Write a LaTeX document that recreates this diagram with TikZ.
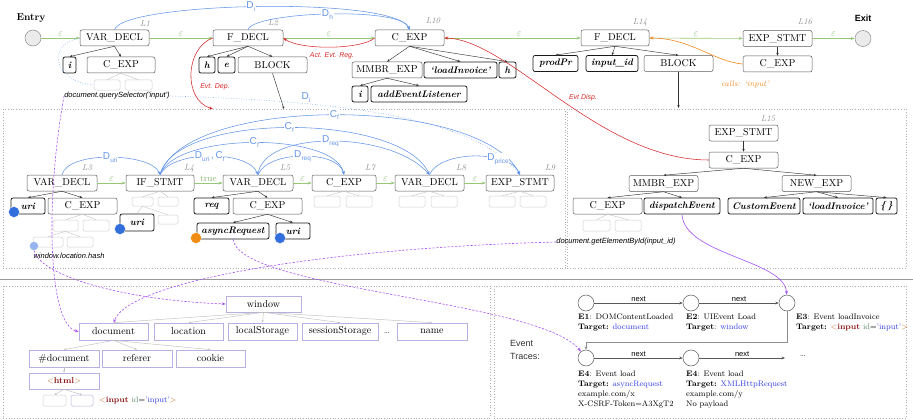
\documentclass[tikz,border=0pt]{standalone}
\usepackage{fontspec}
\newfontfamily\arial{Liberation Sans}
\usetikzlibrary{arrows.meta}
\definecolor{cgreen}{RGB}{150,200,120}
\definecolor{cblue}{RGB}{100,150,232}
\definecolor{cred}{RGB}{215,40,40}
\definecolor{corange}{RGB}{240,135,30}
\definecolor{cpurple}{RGB}{165,80,245}
\definecolor{cdom}{RGB}{185,175,225}
\definecolor{ctag}{RGB}{200,110,50}
\definecolor{cdred}{RGB}{140,20,20}
\definecolor{cattr}{RGB}{90,140,100}
\definecolor{cval}{RGB}{50,60,230}
\definecolor{cbdot}{RGB}{50,110,220}
\definecolor{cldot}{RGB}{150,180,240}
\definecolor{codot}{RGB}{240,140,20}
\newcommand\Dsub[1]{D\kern0.2pt\raisebox{-2.8pt}{\fontsize{6.5}{6.5}\selectfont #1}}
\newcommand\Csub{C\kern0.2pt\raisebox{-2.8pt}{\fontsize{6.5}{6.5}\selectfont f}}
\newcommand\inputtag{\textcolor{ctag}{<}\textcolor{cdred}{\textbf{input}} \textcolor{cattr}{id}=\textcolor{cval}{'input'}\textcolor{ctag}{>}}
\tikzset{
 ast/.style={draw=black!65, rounded corners=2pt, line width=0.5pt, minimum height=16pt, inner sep=0pt, fill=white, font=\fontsize{10}{11}\selectfont},
 lit/.style={ast, draw=black!90, line width=0.75pt, font=\fontsize{9.5}{11}\selectfont\bfseries\itshape},
 faint/.style={draw=black!18, rounded corners=1.5pt, line width=0.5pt, inner sep=0pt, fill=white},
 lno/.style={text=black!45, font=\fontsize{8.5}{9}\selectfont\itshape, inner sep=0pt},
 eps/.style={text=cgreen!90!black, font=\fontsize{10}{10}\selectfont, inner sep=1.5pt, above},
 cf/.style={draw=cgreen, line width=0.6pt, -{Stealth[length=4pt,width=3pt]}},
 tr/.style={draw=black!80, line width=0.45pt, -{Stealth[length=3pt,width=2.4pt]}},
 ftr/.style={draw=black!22, line width=0.45pt},
 dep/.style={draw=cblue, line width=0.55pt, -{Stealth[length=3.5pt,width=3pt]}},
 dlab/.style={text=cblue, fill=white, inner sep=0.6pt, font=\arial\fontsize{10}{10}\selectfont},
 redl/.style={draw=cred, line width=0.55pt, -{Stealth[length=4pt,width=3pt]}},
 rlab/.style={text=cred, font=\arial\itshape\fontsize{7}{8}\selectfont, inner sep=0pt},
 orgl/.style={draw=corange, line width=0.6pt, -{Stealth[length=4pt,width=3pt]}},
 purp/.style={draw=cpurple, line width=0.6pt, -{Stealth[length=4pt,width=3pt]}},
 pdash/.style={dash pattern=on 2.2pt off 1.6pt},
 dom/.style={draw=cdom, line width=0.7pt, minimum height=17pt, inner sep=0pt, fill=white, font=\fontsize{10}{11}\selectfont},
 domtr/.style={draw=black!25, line width=0.45pt, -{Stealth[length=2.5pt,width=2pt]}},
 panel/.style={draw=black!30, dotted, line width=0.7pt},
 evc/.style={circle, draw=black!65, line width=0.5pt, minimum size=16pt, inner sep=0pt, fill=white},
 evt/.style={font=\fontsize{8}{10}\selectfont, align=left, anchor=north west, inner sep=0pt},
 nxt/.style={draw=black!65, line width=0.5pt, -{Stealth[length=3.5pt,width=2.8pt]}},
 nlab/.style={font=\arial\fontsize{7.5}{8}\selectfont, above, inner sep=1.5pt},
 sansit/.style={font=\arial\itshape\fontsize{7.5}{8}\selectfont, inner sep=0pt},
 dotn/.style={circle, inner sep=0pt, minimum size=11pt, draw=white, line width=0.3pt},
 term/.style={circle, draw=black!45, fill=black!8, minimum size=16pt, inner sep=0pt, line width=0.5pt},
}
\begin{document}
\begin{tikzpicture}[x=1pt,y=-1pt]
\useasboundingbox (0,0) rectangle (913,420);
% panels
\draw[panel] (3,109) rectangle (565,268);
\draw[panel] (567,109) rectangle (906,268);
\draw[black!40, line width=1pt] (0,279) -- (913,279);
\draw[panel] (3,286) rectangle (490,418);
\draw[panel] (494,286) rectangle (906,418);

% ---------- top row ----------
\node[term] (entry) at (33,38) {};
\node[font=\bfseries\fontsize{10}{11}\selectfont] (entryl) at (31,18) {Entry};
\node[ast, minimum width=69pt] (vd1) at (114.5,38) {VAR\_DECL};
\node[lno] (L1) at (145,24) {L1};
\node[lit, minimum width=13pt] (i1) at (69.5,65) {i};
\node[ast, minimum width=68pt] (ce1) at (121,65) {C\_EXP};
\node[faint, minimum width=26pt, minimum height=10pt] (f1a) at (107,85) {};
\node[faint, minimum width=27pt, minimum height=10pt] (f1b) at (138.5,85) {};
\node[sansit] (qs) at (117,96) {document.querySelector('input')};

\node[ast, minimum width=70pt] (fd1) at (248,38) {F\_DECL};
\node[lno] (L2) at (273,23) {L2};
\node[lit, minimum width=16pt] (h1) at (207,65) {h};
\node[lit, minimum width=17pt] (e1) at (226.5,65) {e};
\node[ast, minimum width=69pt] (bl1) at (272.5,65) {BLOCK};

\node[ast, minimum width=69pt] (ce10) at (409.5,38) {C\_EXP};
\node[lno] (L10) at (433,21) {L10};
\node[ast, minimum width=70pt] (mm10) at (387,70) {MMBR\_EXP};
\node[lit, minimum width=73pt] (li10) at (460.5,70) {`loadInvoice'};
\node[lit, minimum width=17pt] (h2) at (507.5,70) {h};
\node[lit, minimum width=16pt] (i2) at (360,94) {i};
\node[lit, minimum width=96pt] (ael) at (419,94) {addEventListener};

\node[ast, minimum width=68pt] (fd14) at (615,38) {F\_DECL};
\node[lno] (L14) at (640,22) {L14};
\node[lit, minimum width=45pt] (pp) at (555.5,63.5) {prodPr};
\node[lit, minimum width=52pt] (iid) at (612,63.5) {input\_id};
\node[ast, minimum width=69pt] (bl14) at (678.5,63.5) {BLOCK};

\node[ast, minimum width=69pt] (es16) at (777.5,38.5) {EXP\_STMT};
\node[lno] (L16) at (805,22) {L16};
\node[ast, minimum width=69pt] (ce16) at (777.5,64) {C\_EXP};
\node[term] (exit) at (863,38.5) {};
\node[font=\arial\bfseries\fontsize{9}{10}\selectfont] (exitl) at (863,18) {Exit};
\node[text=corange, font=\itshape\fontsize{8}{9}\selectfont] (calls) at (745,84) {calls: `input'};

% control flow top
\draw[cf] (entry) -- node[eps] (ep1) {$\varepsilon$} (vd1);
\draw[cf] (vd1) -- node[eps] (ep2) {$\varepsilon$} (fd1);
\draw[cf] (fd1) -- node[eps] (ep3) {$\varepsilon$} (ce10);
\draw[cf] (ce10) -- node[eps, pos=0.55] (ep4) {$\varepsilon$} (fd14);
\draw[cf] (fd14) -- node[eps] (ep5) {$\varepsilon$} (es16);
\draw[cf] (es16) -- node[eps] (ep6) {$\varepsilon$} (exit);

% tree edges top
\draw[tr] (vd1.south) -- (i1.north);
\draw[tr] (vd1.south) -- (ce1.north);
\draw[ftr] (ce1.south) -- (f1a.north);
\draw[ftr] (ce1.south) -- (f1b.north);
\draw[tr] (fd1.south) -- (h1.north);
\draw[tr] (fd1.south) -- (e1.north);
\draw[tr] (fd1.south) -- (bl1.north);
\draw[tr] (ce10.south) -- (mm10.north);
\draw[tr] (ce10.south) -- (li10.north);
\draw[tr] (ce10.south) -- (h2.north);
\draw[tr] (mm10.south) -- (i2.north);
\draw[tr] (mm10.south) -- (ael.north);
\draw[tr] (fd14.south) -- (pp.north);
\draw[tr] (fd14.south) -- (iid.north);
\draw[tr] (fd14.south) -- (bl14.north);
\draw[tr] (es16.south) -- (ce16.north);
\coordinate (blk1end) at (284,109);
\coordinate (blk2end) at (678.5,108);
\draw[tr] (bl1.south) -- (blk1end);
\draw[tr] (bl14.south) -- (blk2end);

% ---------- middle left panel ----------
\node[ast, minimum width=70pt] (vd3) at (62,183) {VAR\_DECL};
\node[lno] (L3) at (87,168) {L3};
\node[lit, minimum width=34pt] (uri3) at (28,206) {uri};
\node[ast, minimum width=69pt] (ce3) at (82.5,206) {C\_EXP};
\node[faint, minimum width=25pt, minimum height=11pt] (f3a) at (65.5,225.5) {};
\node[faint, minimum width=26pt, minimum height=11pt] (f3b) at (96,225.5) {};
\node[faint, minimum width=30pt, minimum height=10pt] (f3c) at (48,242) {};
\node[faint, minimum width=26pt, minimum height=10pt] (f3d) at (80,242) {};
\node[sansit] (hash) at (69,256) {window.location.hash};

\node[ast, minimum width=68pt] (if4) at (160,183) {IF\_STMT};
\node[lno] (L4) at (189,168) {L4};
\node[faint, minimum width=21pt, minimum height=9pt] (f4a) at (142.5,201.5) {};
\node[faint, minimum width=20pt, minimum height=9pt] (f4b) at (168,201.5) {};
\node[lit, minimum width=34pt, minimum height=17pt] (uri4) at (137,222.5) {uri};
\node[faint, minimum width=20pt, minimum height=9pt] (f4c) at (168,219.5) {};

\node[ast, minimum width=70pt] (vd5) at (258,183) {VAR\_DECL};
\node[lno] (L5) at (285,168) {L5};
\node[lit, minimum width=35pt] (req) at (211.5,206) {req};
\node[ast, minimum width=69pt] (ce5) at (267.5,206) {C\_EXP};
\node[lit, minimum width=72pt] (async) at (233,231) {asyncRequest};
\node[lit, minimum width=34pt] (uri5) at (293,231) {uri};

\node[ast, minimum width=64pt] (ce7) at (344,183) {C\_EXP};
\node[lno] (L7) at (370,168) {L7};
\node[faint, minimum width=26pt, minimum height=11pt] (f7a) at (327,201.5) {};
\node[faint, minimum width=26pt, minimum height=11pt] (f7b) at (359,201.5) {};
\node[ast, minimum width=69pt] (vd8) at (429.5,183) {VAR\_DECL};
\node[lno] (L8) at (461,168) {L8};
\node[faint, minimum width=26pt, minimum height=11pt] (f8a) at (412,201.5) {};
\node[faint, minimum width=26pt, minimum height=11pt] (f8b) at (444,201.5) {};
\node[ast, minimum width=68pt] (es9) at (520,183) {EXP\_STMT};
\node[lno] (L9) at (550,168) {L9};
\node[faint, minimum width=26pt, minimum height=11pt] (f9a) at (502,201.5) {};
\node[faint, minimum width=26pt, minimum height=11pt] (f9b) at (533,201.5) {};
\node[sansit] (gebi) at (616,242) {document.getElementById(input\_id)};

\node[dotn, fill=cbdot] (d3) at (14,212) {};
\node[dotn, fill=cldot, minimum size=9pt] (hdot) at (34,246) {};
\node[dotn, fill=cbdot] (d4) at (120,229) {};
\node[dotn, fill=codot] (d5a) at (196,238) {};
\node[dotn, fill=cbdot] (d5b) at (280,238) {};

\draw[cf] (vd3) -- node[eps] (ep7) {$\varepsilon$} (if4);
\draw[cf] (if4) -- node[eps, font=\fontsize{9}{9}\selectfont] (ep8) {true} (vd5);
\draw[cf] (vd5) -- node[eps] (ep9) {$\varepsilon$} (ce7);
\draw[cf] (ce7) -- node[eps] (ep10) {$\varepsilon$} (vd8);
\draw[cf] (vd8) -- node[eps] (ep11) {$\varepsilon$} (es9);

\draw[tr] (vd3.south) -- (uri3.north);
\draw[tr] (vd3.south) -- (ce3.north);
\draw[ftr] (ce3.south) -- (f3a.north);
\draw[ftr] (ce3.south) -- (f3b.north);
\draw[ftr] (f3a.south) -- (f3c.north);
\draw[ftr] (f3a.south) -- (f3d.north);
\draw[ftr] (if4.south) -- (f4a.north);
\draw[ftr] (if4.south) -- (f4b.north);
\draw[ftr] (f4a.south) -- (uri4.north);
\draw[ftr] (f4a.south) -- (f4c.north);
\draw[tr] (vd5.south) -- (req.north);
\draw[tr] (vd5.south) -- (ce5.north);
\draw[tr] (ce5.south) -- (async.north);
\draw[tr] (ce5.south) -- (uri5.north);
\draw[ftr] (ce7.south) -- (f7a.north);
\draw[ftr] (ce7.south) -- (f7b.north);
\draw[ftr] (vd8.south) -- (f8a.north);
\draw[ftr] (vd8.south) -- (f8b.north);
\draw[ftr] (es9.south) -- (f9a.north);
\draw[ftr] (es9.south) -- (f9b.north);

% ---------- middle right panel ----------
\node[lno] (L15) at (768,119) {L15};
\node[ast, minimum width=69pt] (es15) at (743.5,133) {EXP\_STMT};
\node[ast, minimum width=69pt] (ce15) at (743.5,160) {C\_EXP};
\node[ast, minimum width=69pt] (mm15) at (663.5,183.5) {MMBR\_EXP};
\node[ast, minimum width=69pt] (nw15) at (816.5,183.5) {NEW\_EXP};
\node[ast, minimum width=69pt] (ce15b) at (607.5,206) {C\_EXP};
\node[lit, minimum width=76pt] (disp) at (682,206) {dispatchEvent};
\node[lit, minimum width=72pt] (cust) at (764,206) {CustomEvent};
\node[lit, minimum width=70pt] (li15) at (838,206) {`loadInvoice'};
\node[lit, minimum width=21pt] (brc) at (886.5,206) {\{\,\}};
\node[faint, minimum width=27pt, minimum height=11pt] (f15a) at (596.5,225.5) {};
\node[faint, minimum width=26pt, minimum height=11pt] (f15b) at (628,225.5) {};
\draw[tr] (es15.south) -- (ce15.north);
\draw[tr] (ce15.south) -- (mm15.north);
\draw[tr] (ce15.south) -- (nw15.north);
\draw[tr] (mm15.south) -- (ce15b.north);
\draw[tr] (mm15.south) -- (disp.north);
\draw[tr] (nw15.south) -- (cust.north);
\draw[tr] (nw15.south) -- (li15.north);
\draw[tr] (nw15.south) -- (brc.north);
\draw[ftr] (ce15b.south) -- (f15a.north);
\draw[ftr] (ce15b.south) -- (f15b.north);

% ---------- dependency arcs ----------
\draw[dep] (vd1.north) .. controls (122,2) and (395,-4) .. node[dlab, pos=0.48] (lDi) {\Dsub{i}} (ce10.north);
\draw[dep] (fd1.north) .. controls (252,12) and (402,6) .. node[dlab] (lDh) {\Dsub{h}} (ce10.north);
\draw[cblue, dotted, line width=0.55pt] (vd1.west) .. controls (45,45) and (55,82) .. (f1a.west);
\draw[dep, dotted] (qs.east) .. controls (300,100) and (470,110) .. node[dlab, fill=none, above, pos=0.33] (lDi2) {\Dsub{i}} (es9.north);
\draw[dep] (if4.north) .. controls (185,95) and (480,95) .. node[dlab] (lc4) {\Csub} (es9.north);
\draw[dep] (if4.north) .. controls (175,112) and (400,112) .. node[dlab] (lc3) {\Csub} (vd8.north);
\draw[dep] (if4.north) .. controls (175,132) and (335,132) .. node[dlab] (lc2) {\Csub} (ce7.north);
\draw[dep] (vd5.north) .. controls (262,130) and (390,130) .. node[dlab] (lDr2) {\Dsub{req}} (vd8.north);
\draw[dep] (vd3.north) .. controls (68,150) and (152,153) .. node[dlab] (lDu) {\Dsub{uri}} (if4.north);
\draw[dep] (if4.north) .. controls (172,150) and (248,150) .. node[dlab] (lDuc) {\Dsub{uri}\,,\,\Csub} (vd5.north);
\draw[dep] (vd5.north) .. controls (268,150) and (338,150) .. node[dlab] (lDr1) {\Dsub{req}} (ce7.north);
\draw[dep] (vd8.north) .. controls (440,150) and (510,150) .. node[dlab, pos=0.7] (lDp) {\Dsub{price}} (es9.north);

% ---------- red / orange ----------
\draw[redl] (ce10.west) .. controls (360,50) and (300,50) .. (fd1.east);
\node[rlab] (aer) at (332,56) {Act. Evt. Reg.};
\coordinate (edep) at (213,109);
\draw[redl] (fd1.west) .. controls (185,48) and (183,100) .. (edep);
\node[rlab] (edl) at (215,87) {Evt. Dep.};
\draw[redl] (ce15.west) .. controls (600,160) and (510,40) .. (ce10.east);
\node[rlab] (edsp) at (583,98) {Evt Disp.};
\draw[orgl] (ce16.west) .. controls (715,62) and (690,38) .. (fd14.east);

% ---------- DOM tree ----------
\node[dom, minimum width=75pt, minimum height=16pt] (win) at (263.5,304) {window};
\node[dom, minimum width=69pt] (doc) at (113.5,331.5) {document};
\node[dom, minimum width=69pt] (loc) at (188.5,331.5) {location};
\node[dom, minimum width=69pt] (lst) at (262.5,331.5) {localStorage};
\node[dom, minimum width=76pt] (sst) at (340,331.5) {sessionStorage};
\node[font=\fontsize{9}{10}\selectfont] (ddots) at (387,333) {\dots};
\node[dom, minimum width=70pt] (nm) at (432,331.5) {name};
\node[dom, minimum width=70pt] (hdoc) at (64,358.5) {\#document};
\node[dom, minimum width=70pt] (refr) at (137,358.5) {referer};
\node[dom, minimum width=69pt] (cook) at (210.5,358.5) {cookie};
\node[dom, minimum width=70pt, minimum height=16pt, font=\fontsize{8.5}{10}\selectfont] (html) at (64,381) {\textcolor{ctag}{<}\textcolor{cdred}{\textbf{html}}\textcolor{ctag}{>}};
\node[faint, minimum width=23pt, minimum height=11pt] (hf1) at (54.5,400.5) {};
\node[faint, draw=cdom, minimum width=22pt, minimum height=11pt] (hf2) at (82,400.5) {};
\node[anchor=west, inner sep=0pt, font=\fontsize{8}{9}\selectfont] (inp) at (99,400) {\inputtag};
\draw[domtr] (win.south) -- (doc.north);
\draw[domtr] (win.south) -- (loc.north);
\draw[domtr] (win.south) -- (lst.north);
\draw[domtr] (win.south) -- (sst.north);
\draw[domtr] (win.south) -- (nm.north);
\draw[domtr] (doc.south) -- (hdoc.north);
\draw[domtr] (doc.south) -- (refr.north);
\draw[domtr] (doc.south) -- (cook.north);
\draw[domtr] (hdoc.south) -- (html.north);
\draw[domtr] (html.south) -- (hf1.north);
\draw[domtr] (html.south) -- (hf2.north);

% ---------- event traces ----------
\node[font=\arial\fontsize{9}{13}\selectfont, align=left, anchor=north west, inner sep=0pt, text=black!80] (evtl) at (510,340) {Event\\Traces:};
\node[evc] (ev1) at (586,303) {};
\node[evc] (ev2) at (691,303) {};
\node[evc] (ev3) at (787,303) {};
\node[evc] (ev4) at (586,358) {};
\node[evc] (ev5) at (691,358) {};
\coordinate (evend) at (785,358);
\node[font=\fontsize{9}{10}\selectfont] (evdots) at (803,356) {\dots};
\draw[nxt] (ev1) -- node[nlab] (nx1) {next} (ev2);
\draw[nxt] (ev2) -- node[nlab] (nx2) {next} (ev3);
\draw[nxt] (ev4) -- node[nlab] (nx3) {next} (ev5);
\draw[nxt] (ev5) -- node[nlab] (nx4) {next} (evend);
\coordinate (ev34) at (787,342);
\draw[nxt, draw=black!45] (ev3.south) -- (ev34) -| (ev4.north);
\node[evt] (t1) at (578,314) {\textbf{E1}: DOMContentLoaded\\\textbf{Target:} \textcolor{cval}{document}};
\node[evt] (t2) at (686,314) {\textbf{E2}: UIEvent Load\\\textbf{Target}: \textcolor{cval}{window}};
\node[evt] (t3) at (796,314) {\textbf{E3}: Event loadInvoice\\\textbf{Target:} \inputtag};
\node[evt] (t4) at (578,371) {\textbf{E4}: Event load\\\textbf{Target:} \textcolor{cval}{asyncRequest}\\example.com/x\\X-CSRF-Token=A3XgT2};
\node[evt] (t5) at (686,371) {\textbf{E4}: Event load\\\textbf{Target:} \textcolor{cval}{XMLHttpRequest}\\example.com/y\\No payload};

% ---------- purple links ----------
\draw[purp, pdash] (hdot.south) .. controls (40,275) and (120,300) .. (win.west);
\draw[purp, pdash] (qs.west) .. controls (45,200) and (48,325) .. (doc.west);
\draw[purp, pdash] (gebi.west) .. controls (330,248) and (130,280) .. (doc.north);
\draw[purp, pdash] (async.south) .. controls (240,290) and (540,300) .. (ev4);
\draw[purp] (disp.south) .. controls (684,255) and (785,260) .. (ev3);
\end{tikzpicture}
\end{document}
